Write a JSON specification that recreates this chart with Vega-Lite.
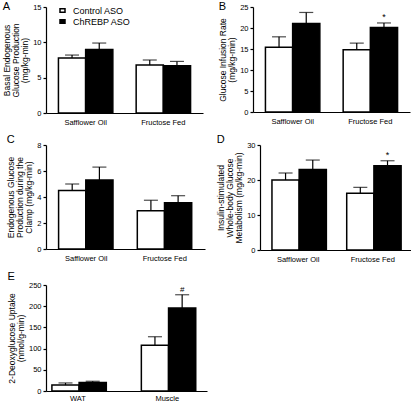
{
  "$schema": "https://vega.github.io/schema/vega-lite/v6.json",
  "padding": {"left": 2, "top": 1, "right": 0, "bottom": 0},
  "background": "white",
  "config": {
    "font": "Liberation Sans",
    "view": {"stroke": null},
    "axis": {"domainColor": "black", "tickColor": "black", "labelColor": "black", "titleColor": "black", "grid": false, "labelFontSize": 7.5, "titleFontSize": 8.5, "titleLineHeight": 9, "titleFontWeight": "normal", "tickSize": 3, "domainWidth": 1.2, "tickWidth": 1.2, "titlePadding": 3, "labelOverlap": false, "labelPadding": 2, "labelFlush": false, "labelBound": false},
    "axisX": {"ticks": false, "labelAngle": 0, "labelFontSize": 7.5, "labelPadding": 5},
    "axisY": {"labelOverlap": false, "labelAngle": 0, "labelLineHeight": 8},
    "title": {"fontSize": 11, "fontWeight": "normal", "anchor": "start", "frame": "bounds", "color": "black"},
    "tick": {"thickness": 1.2, "size": 14, "color": "black"},
    "rule": {"color": "black", "strokeWidth": 1.2}
  },
  "datasets": {
    "a": [
      {"group": "Safflower Oil", "trt": "Control ASO", "mean": 7.8, "upper": 8.2, "sig": ""},
      {"group": "Safflower Oil", "trt": "ChREBP ASO", "mean": 9.0, "upper": 9.9, "sig": ""},
      {"group": "Fructose Fed", "trt": "Control ASO", "mean": 6.8, "upper": 7.5, "sig": ""},
      {"group": "Fructose Fed", "trt": "ChREBP ASO", "mean": 6.7, "upper": 7.3, "sig": ""}
    ],
    "b": [
      {"group": "Safflower Oil", "trt": "Control ASO", "mean": 15.4, "upper": 17.9, "sig": ""},
      {"group": "Safflower Oil", "trt": "ChREBP ASO", "mean": 21.1, "upper": 23.7, "sig": ""},
      {"group": "Fructose Fed", "trt": "Control ASO", "mean": 14.8, "upper": 16.4, "sig": ""},
      {"group": "Fructose Fed", "trt": "ChREBP ASO", "mean": 20.1, "upper": 21.2, "sig": "*"}
    ],
    "c": [
      {"group": "Safflower Oil", "trt": "Control ASO", "mean": 4.5, "upper": 5.0, "sig": ""},
      {"group": "Safflower Oil", "trt": "ChREBP ASO", "mean": 5.3, "upper": 6.3, "sig": ""},
      {"group": "Fructose Fed", "trt": "Control ASO", "mean": 2.95, "upper": 3.75, "sig": ""},
      {"group": "Fructose Fed", "trt": "ChREBP ASO", "mean": 3.55, "upper": 4.1, "sig": ""}
    ],
    "d": [
      {"group": "Safflower Oil", "trt": "Control ASO", "mean": 20.0, "upper": 22.0, "sig": ""},
      {"group": "Safflower Oil", "trt": "ChREBP ASO", "mean": 23.0, "upper": 25.7, "sig": ""},
      {"group": "Fructose Fed", "trt": "Control ASO", "mean": 16.2, "upper": 17.9, "sig": ""},
      {"group": "Fructose Fed", "trt": "ChREBP ASO", "mean": 24.1, "upper": 25.5, "sig": "*"}
    ],
    "e": [
      {"group": "WAT", "trt": "Control ASO", "mean": 14, "upper": 19, "sig": ""},
      {"group": "WAT", "trt": "ChREBP ASO", "mean": 20, "upper": 23, "sig": ""},
      {"group": "Muscle", "trt": "Control ASO", "mean": 108, "upper": 128, "sig": ""},
      {"group": "Muscle", "trt": "ChREBP ASO", "mean": 196, "upper": 227, "sig": "#"}
    ]
  },
  "spacing": 8,
  "resolve": {"scale": {"fill": "independent"}, "legend": {"fill": "independent"}},
  "vconcat": [
    {
      "hconcat": [
        {
          "title": {"text": "A", "offset": -9},
          "width": 157, "height": 106,
          "data": {"name": "a"},
          "encoding": {
            "x": {"field": "group", "type": "nominal", "sort": ["Safflower Oil", "Fructose Fed"], "title": null, "scale": {"paddingInner": 0.3, "paddingOuter": 0.16}},
            "xOffset": {"field": "trt", "type": "nominal", "sort": ["Control ASO", "ChREBP ASO"]}
          },
          "layer": [
            {"mark": {"type": "bar", "stroke": "black", "strokeWidth": 1.5},
             "encoding": {
               "y": {"field": "mean", "type": "quantitative", "scale": {"domain": [0, 15], "nice": false}, "axis": {"values": [0, 5, 10, 15], "labelOverlap": false, "title": ["Basal Endogenous", "Glucose Production", "(mg/kg-min)"]}},
               "fill": {"field": "trt", "type": "nominal", "scale": {"domain": ["Control ASO", "ChREBP ASO"], "range": ["white", "black"]},
                 "legend": {"orient": "none", "legendX": 12, "legendY": -1, "padding": 0, "title": null, "symbolType": "M-1,-0.7H1V0.7H-1Z", "symbolSize": 25, "symbolStrokeColor": "black", "symbolStrokeWidth": 1.5, "labelFontSize": 9, "labelColor": "black", "labelOffset": 6, "rowPadding": 0}}
             }},
            {"mark": "rule", "encoding": {"y": {"field": "mean", "type": "quantitative", "axis": {"values": [0, 5, 10, 15], "labelOverlap": false, "title": ["Basal Endogenous", "Glucose Production", "(mg/kg-min)"]}}, "y2": {"field": "upper"}}},
            {"mark": "tick", "encoding": {"y": {"field": "upper", "type": "quantitative", "axis": {"values": [0, 5, 10, 15], "labelOverlap": false, "title": ["Basal Endogenous", "Glucose Production", "(mg/kg-min)"]}}}}
          ]
        },
        {
          "title": {"text": "B", "offset": -9},
          "width": 157, "height": 105,
          "data": {"name": "b"},
          "encoding": {
            "x": {"field": "group", "type": "nominal", "sort": ["Safflower Oil", "Fructose Fed"], "title": null, "scale": {"paddingInner": 0.3, "paddingOuter": 0.16}},
            "xOffset": {"field": "trt", "type": "nominal", "sort": ["Control ASO", "ChREBP ASO"]}
          },
          "layer": [
            {"mark": {"type": "bar", "stroke": "black", "strokeWidth": 1.5},
             "encoding": {
               "y": {"field": "mean", "type": "quantitative", "scale": {"domain": [0, 25], "nice": false}, "axis": {"values": [0, 5, 10, 15, 20, 25], "labelOverlap": false, "title": ["Glucose Infusion  Rate", "(mg/kg-min)"]}},
               "fill": {"field": "trt", "type": "nominal", "scale": {"domain": ["Control ASO", "ChREBP ASO"], "range": ["white", "black"]}, "legend": null}
             }},
            {"mark": "rule", "encoding": {"y": {"field": "mean", "type": "quantitative", "axis": {"values": [0, 5, 10, 15, 20, 25], "labelOverlap": false, "title": ["Glucose Infusion  Rate", "(mg/kg-min)"]}}, "y2": {"field": "upper"}}},
            {"mark": "tick", "encoding": {"y": {"field": "upper", "type": "quantitative", "axis": {"values": [0, 5, 10, 15, 20, 25], "labelOverlap": false, "title": ["Glucose Infusion  Rate", "(mg/kg-min)"]}}}},
            {"transform": [{"filter": "datum.sig != ''"}], "mark": {"type": "text", "baseline": "bottom", "dy": -1, "fontSize": 9, "color": "black"}, "encoding": {"y": {"field": "upper", "type": "quantitative", "axis": {"values": [0, 5, 10, 15, 20, 25], "labelOverlap": false, "title": ["Glucose Infusion  Rate", "(mg/kg-min)"]}}, "text": {"field": "sig"}}}
          ]
        }
      ],
      "spacing": 15,
      "resolve": {"scale": {"fill": "independent"}, "legend": {"fill": "independent"}}
    },
    {
      "hconcat": [
        {
          "title": {"text": "C", "offset": -4},
          "width": 159, "height": 104,
          "data": {"name": "c"},
          "encoding": {
            "x": {"field": "group", "type": "nominal", "sort": ["Safflower Oil", "Fructose Fed"], "title": null, "scale": {"paddingInner": 0.3, "paddingOuter": 0.16}},
            "xOffset": {"field": "trt", "type": "nominal", "sort": ["Control ASO", "ChREBP ASO"]}
          },
          "layer": [
            {"mark": {"type": "bar", "stroke": "black", "strokeWidth": 1.5},
             "encoding": {
               "y": {"field": "mean", "type": "quantitative", "scale": {"domain": [0, 8], "nice": false}, "axis": {"values": [0, 2, 4, 6, 8], "labelOverlap": false, "title": ["Endogenous Glucose", "Production during the", "Clamp (mg/kg-min)"]}},
               "fill": {"field": "trt", "type": "nominal", "scale": {"domain": ["Control ASO", "ChREBP ASO"], "range": ["white", "black"]}, "legend": null}
             }},
            {"mark": "rule", "encoding": {"y": {"field": "mean", "type": "quantitative", "axis": {"values": [0, 2, 4, 6, 8], "labelOverlap": false, "title": ["Endogenous Glucose", "Production during the", "Clamp (mg/kg-min)"]}}, "y2": {"field": "upper"}}},
            {"mark": "tick", "encoding": {"y": {"field": "upper", "type": "quantitative", "axis": {"values": [0, 2, 4, 6, 8], "labelOverlap": false, "title": ["Endogenous Glucose", "Production during the", "Clamp (mg/kg-min)"]}}}}
          ]
        },
        {
          "title": {"text": "D", "offset": -4},
          "width": 151, "height": 105,
          "data": {"name": "d"},
          "encoding": {
            "x": {"field": "group", "type": "nominal", "sort": ["Safflower Oil", "Fructose Fed"], "title": null, "scale": {"paddingInner": 0.3, "paddingOuter": 0.16}},
            "xOffset": {"field": "trt", "type": "nominal", "sort": ["Control ASO", "ChREBP ASO"]}
          },
          "layer": [
            {"mark": {"type": "bar", "stroke": "black", "strokeWidth": 1.5},
             "encoding": {
               "y": {"field": "mean", "type": "quantitative", "scale": {"domain": [0, 30], "nice": false}, "axis": {"values": [0, 10, 20, 30], "labelOverlap": false, "title": ["Insulin-stimulated", "Whole-body Glucose", "Metabolism (mg/kg-min)"]}},
               "fill": {"field": "trt", "type": "nominal", "scale": {"domain": ["Control ASO", "ChREBP ASO"], "range": ["white", "black"]}, "legend": null}
             }},
            {"mark": "rule", "encoding": {"y": {"field": "mean", "type": "quantitative", "axis": {"values": [0, 10, 20, 30], "labelOverlap": false, "title": ["Insulin-stimulated", "Whole-body Glucose", "Metabolism (mg/kg-min)"]}}, "y2": {"field": "upper"}}},
            {"mark": "tick", "encoding": {"y": {"field": "upper", "type": "quantitative", "axis": {"values": [0, 10, 20, 30], "labelOverlap": false, "title": ["Insulin-stimulated", "Whole-body Glucose", "Metabolism (mg/kg-min)"]}}}},
            {"transform": [{"filter": "datum.sig != ''"}], "mark": {"type": "text", "baseline": "bottom", "dy": -1, "fontSize": 9, "color": "black"}, "encoding": {"y": {"field": "upper", "type": "quantitative", "axis": {"values": [0, 10, 20, 30], "labelOverlap": false, "title": ["Insulin-stimulated", "Whole-body Glucose", "Metabolism (mg/kg-min)"]}}, "text": {"field": "sig"}}}
          ]
        }
      ],
      "spacing": 11,
      "resolve": {"scale": {"fill": "independent"}, "legend": {"fill": "independent"}}
    },
    {
      "title": {"text": "E", "offset": -1},
      "width": 161, "height": 106,
      "data": {"name": "e"},
      "encoding": {
        "x": {"field": "group", "type": "nominal", "sort": ["WAT", "Muscle"], "title": null, "scale": {"paddingInner": 0.42, "paddingOuter": 0.11, "align": 0.3}, "axis": {"labelPadding": 3}},
        "xOffset": {"field": "trt", "type": "nominal", "sort": ["Control ASO", "ChREBP ASO"]}
      },
      "layer": [
        {"mark": {"type": "bar", "stroke": "black", "strokeWidth": 1.5},
         "encoding": {
           "y": {"field": "mean", "type": "quantitative", "scale": {"domain": [0, 250], "nice": false}, "axis": {"values": [0, 50, 100, 150, 200, 250], "labelOverlap": false, "title": ["2-Deoxyglucose Uptake", "(nmol/g-min)"]}},
           "fill": {"field": "trt", "type": "nominal", "scale": {"domain": ["Control ASO", "ChREBP ASO"], "range": ["white", "black"]}, "legend": null}
         }},
        {"mark": "rule", "encoding": {"y": {"field": "mean", "type": "quantitative", "axis": {"values": [0, 50, 100, 150, 200, 250], "labelOverlap": false, "title": ["2-Deoxyglucose Uptake", "(nmol/g-min)"]}}, "y2": {"field": "upper"}}},
        {"mark": "tick", "encoding": {"y": {"field": "upper", "type": "quantitative", "axis": {"values": [0, 50, 100, 150, 200, 250], "labelOverlap": false, "title": ["2-Deoxyglucose Uptake", "(nmol/g-min)"]}}}},
        {"transform": [{"filter": "datum.sig != ''"}], "mark": {"type": "text", "baseline": "bottom", "dy": -1, "fontSize": 8, "color": "black"}, "encoding": {"y": {"field": "upper", "type": "quantitative", "axis": {"values": [0, 50, 100, 150, 200, 250], "labelOverlap": false, "title": ["2-Deoxyglucose Uptake", "(nmol/g-min)"]}}, "text": {"field": "sig"}}}
      ]
    }
  ]
}
